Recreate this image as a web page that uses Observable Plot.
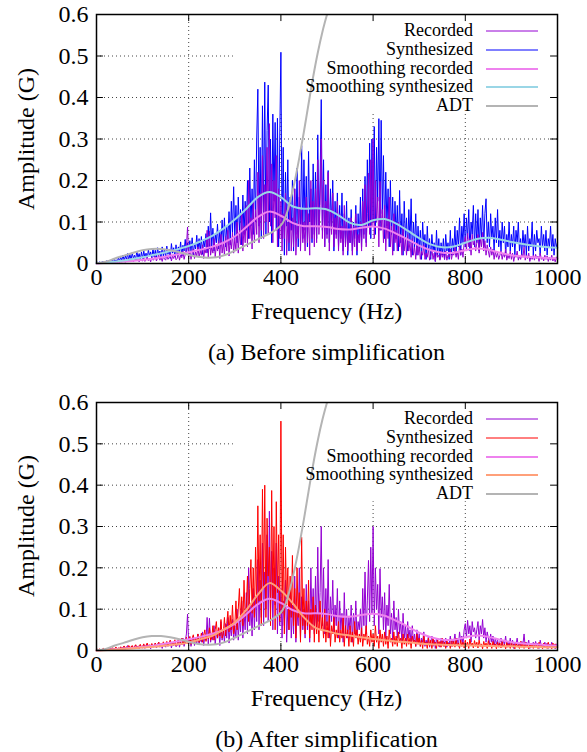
<!DOCTYPE html>
<html><head><meta charset="utf-8">
<script src="https://cdn.jsdelivr.net/npm/d3@7"></script>
<script src="https://cdn.jsdelivr.net/npm/@observablehq/plot@0.6"></script>
<style>
body{margin:0;background:#fff;}
#root{position:relative;width:587px;height:752px;font-family:'Liberation Serif','DejaVu Serif','Noto Serif','Times New Roman',Times,serif;color:#000;background:#fff;overflow:hidden;}
.panel{position:absolute;left:0;}
.title{position:absolute;text-align:center;font-size:24px;line-height:24px;white-space:nowrap;}
.ylab{position:absolute;width:300px;text-align:center;font-size:24px;line-height:24px;white-space:nowrap;transform:rotate(-90deg);}
.leg{position:absolute;font-size:18px;line-height:17px;white-space:nowrap;text-align:right;}
</style></head><body><div id="root"></div>
<script>
// ---------- data ----------
const xTicks = [0, 200, 400, 600, 800, 1000];
const yTicks = [0, 0.1, 0.2, 0.3, 0.4, 0.5, 0.6];
const seriesNames = ["Recorded", "Synthesized", "Smoothing recorded", "Smoothing synthesized", "ADT"];
const captions = ["(a) Before simplification", "(b) After simplification"];
const xTitle = "Frequency (Hz)";
const yTitle = "Amplitude (G)";

// spectrum bins every 2.5 Hz, 0..1000 (401 bins)
const freq = d3.range(0, 1000.1, 2.5);

// Recorded spectrum (same in both panels), one row = 25 Hz
const recorded = [
.001,.002,.001,.003,.001,.002,.004,.001,.003,.002,
.004,.002,.005,.003,.006,.002,.004,.007,.003,.005,
.003,.008,.004,.006,.010,.003,.007,.012,.004,.009,
.005,.011,.004,.008,.013,.006,.010,.004,.012,.007,
.006,.014,.005,.010,.016,.007,.012,.004,.015,.008,
.010,.018,.006,.013,.020,.008,.015,.005,.017,.011,
.008,.020,.010,.015,.024,.006,.018,.012,.022,.009,
.012,.026,.008,.020,.014,.030,.010,.022,.040,.088,
.015,.030,.010,.025,.035,.012,.028,.018,.040,.015,
.030,.020,.045,.012,.035,.025,.080,.015,.078,.020,
.040,.025,.060,.015,.045,.030,.055,.012,.070,.025,
.050,.020,.065,.030,.080,.018,.060,.035,.075,.025,
.060,.030,.100,.025,.080,.045,.120,.030,.090,.050,
.140,.040,.200,.060,.110,.035,.150,.050,.130,.070,
.220,.050,.170,.080,.260,.060,.190,.100,.280,.070,
.337,.090,.240,.050,.200,.110,.260,.040,.180,.060,
.150,.030,.120,.060,.170,.020,.100,.050,.140,.030,
.110,.040,.180,.020,.090,.060,.200,.030,.130,.050,
.100,.030,.160,.050,.120,.020,.200,.060,.150,.040,
.180,.050,.250,.070,.140,.300,.060,.200,.040,.150,
.060,.220,.030,.130,.070,.170,.040,.110,.060,.150,
.030,.120,.050,.090,.020,.140,.040,.100,.030,.080,
.050,.110,.020,.090,.040,.120,.030,.070,.050,.100,
.030,.150,.060,.190,.040,.120,.218,.070,.250,.090,
.300,.060,.200,.100,.160,.040,.198,.080,.130,.050,
.140,.030,.110,.060,.160,.040,.090,.020,.120,.050,
.080,.030,.100,.040,.070,.020,.090,.030,.060,.020,
.070,.030,.050,.015,.060,.020,.040,.010,.050,.020,
.040,.010,.030,.020,.045,.010,.025,.015,.035,.008,
.020,.035,.010,.025,.005,.030,.015,.020,.008,.030,
.015,.025,.010,.030,.008,.020,.015,.035,.010,.025,
.020,.040,.015,.030,.010,.045,.020,.035,.015,.050,
.065,.030,.073,.040,.060,.020,.070,.045,.055,.030,
.050,.070,.025,.060,.040,.075,.030,.055,.020,.045,
.030,.015,.040,.020,.035,.010,.030,.015,.025,.010,
.020,.030,.010,.025,.015,.035,.008,.020,.012,.030,
.010,.025,.005,.020,.015,.030,.008,.018,.010,.022,
.015,.040,.008,.020,.012,.025,.005,.018,.010,.020,
.008,.022,.012,.018,.005,.025,.010,.015,.006,.020,
.010,.018,.005,.015,.008,.020,.006,.014,.004,.016,
.010];

// Synthesized spectrum before simplification (panel a)
const synthBefore = [
.001,.003,.002,.004,.001,.005,.003,.006,.002,.007,
.003,.008,.004,.010,.005,.012,.006,.009,.004,.014,
.006,.015,.008,.020,.007,.018,.010,.024,.008,.022,
.009,.026,.012,.020,.010,.030,.014,.024,.009,.028,
.012,.030,.015,.025,.010,.034,.018,.028,.012,.036,
.016,.032,.012,.038,.020,.030,.014,.040,.018,.034,
.015,.042,.022,.035,.012,.048,.025,.038,.016,.045,
.020,.040,.026,.052,.018,.044,.030,.058,.022,.050,
.025,.055,.030,.062,.020,.048,.035,.068,.028,.060,
.030,.065,.022,.058,.040,.072,.026,.090,.035,.122,
.040,.085,.030,.070,.050,.095,.035,.080,.045,.105,
.050,.110,.040,.090,.060,.125,.045,.150,.070,.185,
.060,.140,.050,.160,.080,.130,.045,.165,.070,.150,
.080,.200,.060,.230,.090,.180,.070,.250,.100,.300,
.420,.090,.280,.060,.380,.120,.437,.070,.320,.430,
.100,.300,.050,.360,.150,.340,.080,.350,.040,.300,
.509,.060,.280,.020,.220,.090,.250,.030,.160,.080,
.200,.030,.180,.070,.230,.040,.160,.090,.284,.060,
.250,.080,.210,.040,.270,.100,.180,.050,.240,.070,
.220,.060,.310,.090,.200,.395,.080,.250,.040,.190,
.070,.224,.050,.180,.090,.200,.030,.150,.070,.170,
.040,.140,.060,.170,.030,.120,.050,.150,.020,.110,
.050,.130,.030,.100,.060,.140,.020,.120,.050,.160,
.040,.180,.070,.210,.050,.250,.090,.290,.060,.300,
.100,.330,.070,.280,.150,.349,.080,.345,.120,.260,
.060,.220,.090,.180,.040,.200,.070,.160,.030,.150,
.060,.140,.030,.176,.050,.120,.020,.150,.060,.110,
.030,.130,.050,.156,.020,.100,.040,.120,.020,.090,
.030,.080,.010,.100,.040,.070,.010,.090,.030,.060,
.010,.070,.030,.050,.005,.080,.020,.060,.010,.050,
.020,.060,.010,.070,.030,.050,.010,.080,.020,.060,
.030,.090,.020,.080,.040,.110,.020,.090,.050,.120,
.040,.110,.060,.130,.030,.100,.070,.140,.040,.120,
.050,.130,.030,.110,.060,.140,.040,.120,.156,.050,
.100,.040,.120,.060,.090,.030,.110,.050,.130,.040,
.080,.030,.100,.050,.090,.020,.070,.040,.100,.030,
.070,.040,.090,.020,.080,.050,.100,.030,.060,.020,
.080,.040,.070,.020,.090,.030,.060,.040,.100,.020,
.070,.030,.080,.050,.060,.020,.090,.040,.070,.030,
.080,.020,.060,.040,.090,.030,.070,.020,.060,.040,
.050];

// Synthesized spectrum after simplification (panel b)
const synthAfter = [
.001,.003,.002,.004,.001,.003,.005,.002,.004,.003,
.005,.003,.006,.004,.007,.003,.006,.008,.004,.006,
.005,.009,.004,.008,.011,.005,.009,.006,.012,.007,
.008,.012,.006,.010,.014,.007,.011,.009,.015,.008,
.010,.016,.008,.013,.018,.009,.014,.011,.017,.010,
.012,.018,.010,.015,.020,.011,.017,.013,.021,.012,
.014,.022,.011,.018,.025,.013,.020,.015,.026,.012,
.016,.026,.014,.022,.030,.015,.024,.018,.032,.016,
.020,.034,.015,.028,.038,.018,.030,.022,.040,.020,
.024,.042,.020,.036,.050,.022,.040,.028,.055,.025,
.030,.060,.025,.050,.070,.030,.055,.035,.075,.030,
.040,.080,.035,.065,.095,.045,.085,.050,.110,.040,
.060,.120,.050,.100,.150,.070,.130,.060,.170,.080,
.100,.180,.070,.150,.220,.090,.200,.080,.250,.110,
.350,.120,.280,.060,.390,.150,.400,.080,.320,.180,
.250,.060,.387,.120,.300,.050,.360,.140,.280,.070,
.555,.090,.280,.040,.250,.110,.200,.050,.180,.080,
.230,.060,.150,.030,.200,.080,.140,.020,.274,.060,
.150,.040,.120,.060,.170,.030,.100,.050,.130,.020,
.110,.040,.090,.020,.120,.050,.080,.030,.100,.020,
.070,.030,.090,.010,.060,.040,.080,.020,.050,.030,
.070,.020,.050,.030,.080,.010,.060,.030,.050,.010,
.060,.020,.045,.010,.070,.030,.050,.015,.040,.020,
.055,.010,.040,.025,.060,.015,.035,.010,.050,.020,
.040,.010,.060,.020,.035,.005,.050,.020,.040,.010,
.045,.015,.035,.005,.050,.020,.030,.010,.045,.015,
.035,.010,.045,.020,.030,.005,.040,.015,.030,.010,
.040,.015,.030,.005,.035,.020,.025,.010,.040,.015,
.030,.010,.025,.005,.035,.015,.020,.005,.030,.010,
.025,.005,.030,.015,.020,.005,.028,.010,.022,.008,
.030,.010,.020,.005,.025,.012,.018,.005,.028,.010,
.022,.008,.030,.012,.018,.005,.025,.010,.020,.006,
.025,.010,.020,.005,.028,.012,.018,.006,.024,.010,
.020,.006,.025,.010,.016,.004,.022,.010,.018,.005,
.024,.010,.018,.005,.022,.012,.016,.004,.020,.008,
.018,.006,.022,.010,.015,.004,.020,.008,.016,.005,
.020,.008,.015,.004,.018,.010,.014,.005,.022,.008,
.016,.005,.020,.010,.014,.004,.018,.008,.015,.005,
.018,.008,.014,.005,.020,.010,.015,.004,.018,.008,
.015,.005,.020,.008,.014,.004,.018,.010,.016,.006,
.012];

// smoothed curves, every 25 Hz
const smoothFreq = d3.range(0, 1001, 25);
const smoothRecorded = [0.000,0.002,0.004,0.006,0.009,0.012,0.017,0.022,0.027,0.033,0.040,0.050,0.065,0.088,0.112,0.125,0.115,0.098,0.090,0.090,0.088,0.083,0.082,0.086,0.089,0.084,0.072,0.058,0.043,0.032,0.026,0.026,0.032,0.036,0.033,0.026,0.020,0.017,0.015,0.013,0.012];
const smoothSynthBefore = [0.001,0.003,0.006,0.010,0.015,0.021,0.027,0.034,0.042,0.053,0.066,0.084,0.106,0.132,0.160,0.172,0.160,0.138,0.132,0.133,0.130,0.116,0.098,0.093,0.104,0.107,0.096,0.079,0.061,0.046,0.039,0.041,0.050,0.059,0.062,0.058,0.052,0.047,0.043,0.040,0.038];
const smoothSynthAfter = [0.000,0.001,0.003,0.005,0.007,0.009,0.012,0.015,0.019,0.027,0.035,0.050,0.068,0.098,0.135,0.163,0.145,0.115,0.080,0.055,0.047,0.040,0.036,0.032,0.028,0.025,0.022,0.020,0.017,0.015,0.014,0.013,0.012,0.012,0.011,0.010,0.010,0.009,0.009,0.008,0.008];

// ADT curve
const adtFreq = [0,20,40,60,80,100,120,140,160,180,200,220,240,260,280,300,320,340,360,380,400,410,420,430,440,450,460,470,480,490,500,510];
const adtAmp  = [0,0.004,0.012,0.019,0.026,0.032,0.035,0.035,0.032,0.027,0.021,0.016,0.014,0.015,0.021,0.031,0.042,0.053,0.064,0.075,0.092,0.112,0.150,0.198,0.255,0.318,0.385,0.450,0.508,0.558,0.600,0.640];

// legend box region (data units) that hides the grid
const legendBox = [{x1: 297, x2: 1000, y1: 0.36, y2: 0.6}];

// ---------- styles ----------
const FONT = "'Liberation Serif','DejaVu Serif','Noto Serif','Times New Roman',Times,serif";
const colRecorded = "#9400d3";
const colSmoothRec = "#ee82ee";
const colADT = "#b4b4b4";
const panels = [
  {top: 0, synth: synthBefore, smooth: smoothSynthBefore, colSynth: "#0000ff", colSmooth: "#9ad6e6", synthFirst: true},
  {top: 388, synth: synthAfter, smooth: smoothSynthAfter, colSynth: "#ff0000", colSmooth: "#ffa07a", synthFirst: false}
];

const toRows = (xs, ys) => ys.map((v, i) => ({f: xs[i], a: v}));
const recRows = toRows(freq, recorded);
const smoothRecRows = toRows(smoothFreq, smoothRecorded);
const adtRows = toRows(adtFreq, adtAmp);

const root = document.getElementById("root");
const mt = 14, mb = 37, ml = 96, mr = 30;

panels.forEach((p, k) => {
  const synthRows = toRows(freq, p.synth);
  const smoothRows = toRows(smoothFreq, p.smooth);
  const recLine = Plot.line(recRows, {x: "f", y: "a", stroke: colRecorded, strokeWidth: 1});
  const synLine = Plot.line(synthRows, {x: "f", y: "a", stroke: p.colSynth, strokeWidth: 1});
  const h = k === 0 ? 300 : 299;
  const chart = Plot.plot({
    width: 587, height: h,
    marginLeft: ml, marginRight: mr, marginTop: mt, marginBottom: mb,
    style: {fontFamily: FONT, fontSize: "24px", background: "white", color: "black"},
    x: {domain: [0, 1000]},
    y: {domain: [0, 0.6]},
    marks: [
      Plot.ruleX(xTicks.slice(1, -1), {y1: 0, y2: 0.6, stroke: "#444", strokeDasharray: "1,3", strokeWidth: 1}),
      Plot.ruleY(yTicks.slice(1, -1), {x1: 0, x2: 1000, stroke: "#444", strokeDasharray: "1,3", strokeWidth: 1}),
      Plot.rect(legendBox, {x1: "x1", x2: "x2", y1: "y1", y2: "y2", fill: "white"}),
      p.synthFirst ? synLine : recLine,
      p.synthFirst ? recLine : synLine,
      Plot.line(smoothRecRows, {x: "f", y: "a", stroke: colSmoothRec, strokeWidth: 2, curve: "catmull-rom"}),
      Plot.line(smoothRows, {x: "f", y: "a", stroke: p.colSmooth, strokeWidth: 2, curve: "catmull-rom"}),
      Plot.line(adtRows, {x: "f", y: "a", stroke: colADT, strokeWidth: 2, curve: "catmull-rom", clip: true}),
      // inward ticks on all four sides
      Plot.ruleY(yTicks, {x1: 0, x2: 15, stroke: "black"}),
      Plot.ruleY(yTicks, {x1: 985, x2: 1000, stroke: "black"}),
      Plot.ruleX(xTicks, {y1: 0, y2: 0.017, stroke: "black"}),
      Plot.ruleX(xTicks, {y1: 0.583, y2: 0.6, stroke: "black"}),
      Plot.axisX({ticks: xTicks, tickSize: 0, tickPadding: 4, tickFormat: d => String(d), label: null}),
      Plot.axisY({ticks: yTicks, tickSize: 0, tickPadding: 8, tickFormat: d => d === 0 ? "0" : d.toFixed(1), label: null}),
      Plot.frame({stroke: "black", strokeWidth: 1.5})
    ]
  });
  chart.classList.add("panel");
  chart.style.top = p.top + "px";
  root.appendChild(chart);

  const plotTop = p.top + mt;
  const plotBottom = p.top + h - mb;

  const yl = document.createElement("div");
  yl.className = "ylab";
  yl.textContent = yTitle;
  yl.style.left = (26 - 150) + "px";
  yl.style.top = ((plotTop + plotBottom) / 2 - 12) + "px";
  root.appendChild(yl);

  const xl = document.createElement("div");
  xl.className = "title";
  xl.textContent = xTitle;
  xl.style.left = ml + "px"; xl.style.width = (587 - ml - mr) + "px";
  xl.style.top = (plotBottom + 48 - 12) + "px";
  root.appendChild(xl);

  const cap = document.createElement("div");
  cap.className = "title";
  cap.textContent = captions[k];
  cap.style.left = ml + "px"; cap.style.width = (587 - ml - mr) + "px";
  cap.style.top = (plotBottom + 89 - 12) + "px";
  root.appendChild(cap);

  const legColors = [colRecorded, p.colSynth, colSmoothRec, p.colSmooth, colADT];
  const legWidths = [1, 1, 2, 2, 2];
  seriesNames.forEach((name, i) => {
    const cy = plotTop + 17 + i * 18.8;
    const t = document.createElement("div");
    t.className = "leg";
    t.textContent = name;
    t.style.right = (587 - 473) + "px";
    t.style.top = (cy - 9) + "px";
    root.appendChild(t);
    const s = document.createElementNS("http://www.w3.org/2000/svg", "svg");
    s.setAttribute("width", 52); s.setAttribute("height", 6);
    s.style.position = "absolute"; s.style.left = "486px"; s.style.top = (cy - 3) + "px";
    const ln = document.createElementNS("http://www.w3.org/2000/svg", "line");
    ln.setAttribute("x1", 0); ln.setAttribute("x2", 52); ln.setAttribute("y1", 3); ln.setAttribute("y2", 3);
    ln.setAttribute("stroke", legColors[i]); ln.setAttribute("stroke-width", legWidths[i]);
    s.appendChild(ln);
    root.appendChild(s);
  });
});
</script></body></html>
